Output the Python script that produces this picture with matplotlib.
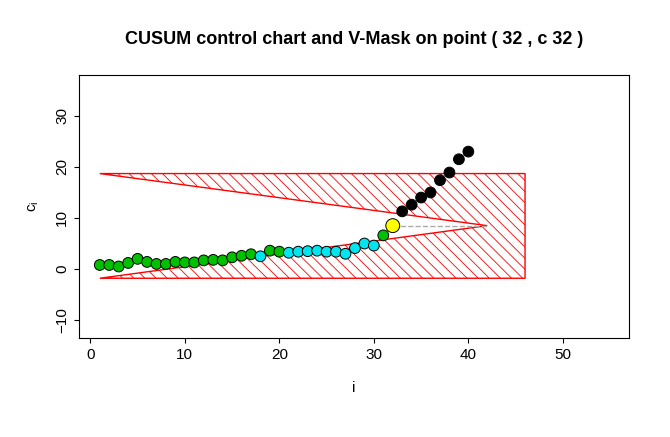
import numpy as np
import matplotlib.pyplot as plt
from matplotlib.patches import Polygon

idx = np.arange(1, 41)
cusum = [0.8, 0.8, 0.5, 1.2, 2.0, 1.4, 1.0, 1.0, 1.4, 1.3,
         1.3, 1.7, 1.8, 1.7, 2.3, 2.6, 2.9, 2.5, 3.6, 3.4,
         3.2, 3.4, 3.5, 3.6, 3.4, 3.4, 3.0, 4.1, 5.0, 4.6,
         6.6, 8.5, 11.3, 12.6, 14.0, 15.0, 17.4, 18.9, 21.5, 23.0]
colors = (['#00c000'] * 17 + ['#00e5ee'] + ['#00c000'] * 2 + ['#00e5ee'] * 10
          + ['#00c000'] + ['yellow'] + ['black'] * 8)

point = 32
vertex = (42, 8.5)
mask_top, mask_bot, mask_start, mask_end = 18.7, -1.8, 1, 46

plt.rcParams['font.family'] = ['Liberation Sans', 'DejaVu Sans']
plt.rcParams['hatch.color'] = '#ff6040'
plt.rcParams['hatch.linewidth'] = 0.6

fig = plt.figure(figsize=(6.7, 4.37), dpi=100)
ax = fig.add_axes([79/670, 1-338/437, 550/670, 263/437])

poly = Polygon([(mask_start, mask_top), (mask_end, mask_top), (mask_end, mask_bot),
                (mask_start, mask_bot), vertex], closed=True,
               facecolor='none', edgecolor='red', hatch='\\\\\\', linewidth=1)
ax.add_patch(poly)
ax.plot([point, vertex[0]], [cusum[point-1], vertex[1]], '--', color='#aaaaaa', lw=1)

sizes = [100 if c == 'yellow' else 60 for c in colors]
ax.scatter(idx, cusum, c=colors, s=sizes, edgecolors='black', linewidths=0.7, zorder=3)

ax.set_xlim(-1.2, 57)
ax.set_ylim(-13.5, 38)
ax.set_xticks([0, 10, 20, 30, 40, 50])
ax.set_yticks([-10, 0, 10, 20, 30])
for lbl in ax.get_yticklabels():
    lbl.set_rotation(90)
    lbl.set_va('center')
ax.set_xlabel('i', fontsize=11, labelpad=14)
ax.set_ylabel('$\\mathregular{c_i}$', fontsize=11, labelpad=10)
ax.set_title('CUSUM control chart and V-Mask on point ( 32 , c 32 )',
             fontsize=13, fontweight='bold', pad=22)
ax.tick_params(labelsize=11)
fig.savefig('out.png', dpi=100)
